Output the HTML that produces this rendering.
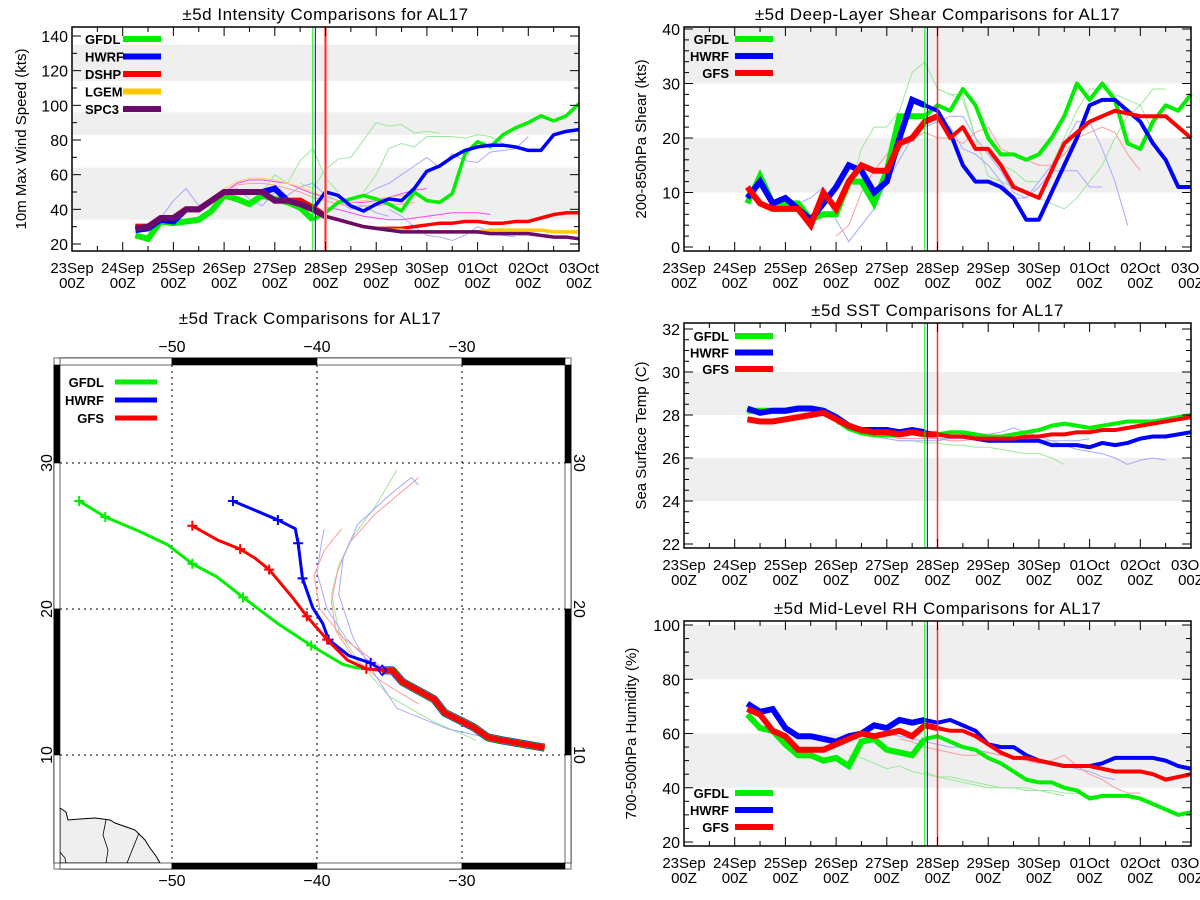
<!DOCTYPE html>
<html><head><meta charset="utf-8"><title>AL17 ±5d Comparisons</title>
<style>
html,body{margin:0;padding:0;background:#fff;}
svg{display:block;font-family:"Liberation Sans",sans-serif;}
</style></head>
<body>
<svg id="chart" width="1200" height="900" viewBox="0 0 1200 900" xmlns="http://www.w3.org/2000/svg"></svg>
<script>
// ---------------- DATA ----------------
const dayLabels = ["23Sep","24Sep","25Sep","26Sep","27Sep","28Sep","29Sep","30Sep","01Oct","02Oct","03Oct"];
const seriesStart = 1.25; // days after 23Sep 00Z, 6-hourly
// Intensity (kts)
const intGFDL = [25,23,33,32,33,34,39,48,46,43,48,46,44,41,34,38,44,46,48,46,43,39,50,45,44,49,72,79,76,83,87,90,94,91,94,101];
const intHWRF = [28,29,34,33,40,40,45,50,50,50,50,52,45,44,40,50,48,42,39,43,46,45,52,62,65,70,74,76,77,77,76,74,74,83,85,86];
const intDSHP = [30,30,35,35,40,40,45,50,50,50,50,45,45,45,41,36,34,32,30,29,29,29,30,31,32,32,33,33,32,32,33,33,35,37,38,38];
const intLGEM = [29,30,35,35,40,40,45,50,50,50,50,45,45,43,40,36,34,32,30,29,28,28,27,27,27,27,27,27,28,28,28,28,28,27,27,27];
const intSPC3 = [29,30,35,35,40,40,45,50,50,50,50,45,45,43,40,36,34,32,30,29,28,27,27,27,27,27,27,27,26,26,26,26,25,24,24,23];
const intThinStart = [4.5,5.75,3.5,1.75,5.75,6.25,3.0,5.0,3.0,3.0];
const intThinVals = [
 [55,52,63,69,70,80,90,88,89,84,85,84],
 [50,60,75,78,76,82,82,82,81,83,82,78],
 [45,50,60,55,68,75,58,50],
 [35,45,52,42,44,48,52,46,42,50,48,53,55,48,45,40,42,38,36],
 [48,52,55,60,65,70,64,72,68,67,73,74,75,82],
 [40,36,30,25,24,22,25,30,27,25,24],
 [50,55,57,57,56,55,52,49,47,45,44,44,45,47,49,51,52],
 [41,40,38,36,35,34,34,35,36,37,38,38,38,37],
 [52,56,58,58,57,55,53,50,47,45,44,45,46,47,48,48,47],
 [50,54,55,55,54,52,50,47,45,43,42,42,42,43,43,44]];
const intThinColor = ["#9be89b","#9be89b","#9be89b","#a8a8ff","#a8a8ff","#a8a8ff","#ff40ff","#ff40ff","#ffd070","#ff9a9a"];
// Shear (kts)
const shrGFDL = [8,13,8,8,8,5,6,6,12,12,8,14,24,24,24,26,25,29,26,20,17,17,16,17,20,24,30,27,30,27,19,18,23,26,25,28];
const shrHWRF = [9,12,8,9,7,5,8,11,15,14,10,12,20,27,26,25,21,15,12,12,11,9,5,5,10,15,20,26,27,27,25,23,19,16,11,11];
const shrGFS  = [11,8,7,7,7,4,10,7,12,15,14,14,19,20,23,24,20,22,18,18,15,11,10,9,14,19,21,23,24,25,24.5,24,24,24,22,20];
const shrThinStart = [3.0,5.0,2.25,5.0,3.0];
const shrThinVals = [
 [7,10,18,22,22,25,32,34,29,28,28,20,13,12,11,10,9,8,7,9,12,15,20,24,26,29,29],
 [29,28,27,20,17,15,14,12,12,15,20,25,29,29,28,27,26,21],
 [8,9,11,5,1,4,7,12,16,20,22,23,24,24,20,17,14,10,9,12,15,19,23,23,18,12,4],
 [23,22,18,17,15,12,9,9,11,14,14,14,11,11],
 [2,4,10,14,17,20,20,21,20,20,19,21,22,18,17,16,15,15,17,20,21,22,21,17,14]];
const shrThinColor = ["#9be89b","#9be89b","#a8a8ff","#a8a8ff","#ff9a9a"];
// SST (C)
const sstGFDL = [28.2,28.2,28.2,28.2,28.3,28.3,28.2,27.8,27.4,27.2,27.1,27.1,27.1,27.2,27.1,27.1,27.2,27.2,27.1,27.0,27.0,27.1,27.2,27.3,27.5,27.6,27.5,27.4,27.5,27.6,27.7,27.7,27.7,27.8,27.9,28.0];
const sstHWRF = [28.3,28.1,28.2,28.2,28.3,28.3,28.2,27.9,27.5,27.3,27.3,27.3,27.2,27.3,27.2,27.1,27.0,27.0,26.9,26.8,26.8,26.8,26.8,26.8,26.6,26.6,26.6,26.5,26.7,26.6,26.7,26.9,27.0,27.0,27.1,27.2];
const sstGFS  = [27.8,27.7,27.7,27.8,27.9,28.0,28.1,27.8,27.5,27.3,27.2,27.2,27.1,27.2,27.1,27.1,27.0,27.0,26.9,26.9,26.9,26.9,27.0,27.0,27.1,27.1,27.2,27.2,27.3,27.3,27.4,27.5,27.6,27.7,27.8,27.9];
const sstThinStart = [3.5,4.75,3.75,3.0];
const sstThinVals = [
 [27.2,27.0,26.9,26.8,26.8,26.7,26.7,26.6,26.6,26.5,26.5,26.4,26.3,26.2,26.2,26.0,25.7],
 [27.0,26.9,26.9,27.0,27.1,27.1,27.2,27.4,27.2,27.0,26.8,26.6,26.4,26.3,26.2,26.0,25.7,25.9,26.0,25.9],
 [27.0,26.9,26.8,26.8,26.8,26.8,26.9,26.9,26.9,26.9,26.8,26.8,26.9,26.8,26.8,26.8,26.8,26.9],
 [27.6,27.4,27.2,27.0,27.0,26.9,26.9,26.9,26.9,26.8,26.8,26.9,26.9,26.9,26.9,26.9,27.0]];
const sstThinColor = ["#9be89b","#a8a8ff","#a8a8ff","#ff9a9a"];
// RH (%)
const rhGFDL = [67,62,61,56,52,52,50,51,48,57,58,54,53,52,58,59,57,55,54,51,49,46,43,42,42,40,39,36,37,37,37,36,34,32,30,31];
const rhHWRF = [71,68,69,62,59,59,58,57,59,60,63,62,65,64,65,64,65,63,61,56,55,55,52,50,49,48,48,48,49,51,51,51,51,50,48,47];
const rhGFS  = [69,67,61,59,54,54,54,56,58,60,59,60,61,59,63,62,61,61,59,56,53,51,51,50,49,48,48,48,47,46,46,46,45,43,44,45];
const rhThinStart = [3.25,4.75,4.0,4.25];
const rhThinVals = [
 [52,51,49,47,48,46,45,44,43,42,41,40,40,40,39,39,38,37],
 [46,44,44,43,42,41,40,40,40,39,39,38,38,37,37,37],
 [60,59,58,57,56,55,55,54,53,52,51,50,50,49,48,47,46,44,43],
 [58,57,55,54,53,52,52,53,52,51,50,49,50,52,48,45,43,40,38,38]];
const rhThinColor = ["#9be89b","#9be89b","#a8a8ff","#ff9a9a"];
// Track (deg lon / lat)
const obsLon = [-24.3,-27.2,-28.2,-29.2,-31.2,-31.9,-34.1,-34.8,-35.5];
const obsLat = [10.5,11.0,11.2,11.9,12.9,13.8,15.0,15.8,15.8];
const trkGFDLLon = [-35.5,-37.4,-38.2,-40.4,-42.7,-45.1,-46.9,-48.6,-50.3,-52.2,-54.6,-56.4];
const trkGFDLLat = [15.8,16.0,16.2,17.5,19.0,20.8,22.2,23.1,24.4,25.3,26.3,27.4];
const trkHWRFLon = [-35.5,-36.3,-37.8,-39.2,-39.6,-40.3,-41.0,-41.3,-41.5,-42.7,-45.8];
const trkHWRFLat = [15.8,16.3,16.8,17.9,19.0,20.1,22.1,24.5,25.5,26.1,27.4];
const trkGFSLon = [-35.5,-36.6,-37.9,-39.3,-40.7,-41.7,-43.3,-44.3,-45.3,-46.8,-48.6];
const trkGFSLat = [15.8,15.9,16.5,17.9,19.5,20.8,22.7,23.5,24.1,24.7,25.7];
const markGFDL = [3,5,7,10,11];
const markHWRF = [1,3,6,7,9,10];
const markGFS = [1,3,4,6,8,10];
const thinTrkLon = [[-29.0,-32.0,-35.0,-37.0,-38.5,-39.0,-38.5,-37.5,-36.0,-34.5],[-33.0,-35.5,-37.5,-38.7,-39.0,-38.6,-37.8,-36.0,-33.0],[-35.0,-36.5,-38.0,-39.3,-40.0,-39.7,-39.5],[-27.0,-31.0,-34.5,-36.0,-37.5,-38.5,-38.2,-37.2,-35.0,-33.5,-33.0],[-35.2,-36.0,-38.2,-39.8,-40.2,-39.5,-38.3]];
const thinTrkLat = [[11.0,12.3,14.0,16.2,18.5,21.0,23.0,25.0,27.0,29.5],[13.5,15.0,16.7,18.5,20.5,22.5,24.5,26.5,29.0],[15.5,16.5,18.0,20.0,22.5,24.5,25.5],[10.9,11.8,13.2,15.5,18.0,21.0,23.5,25.8,27.8,29.0,28.5],[15.6,16.4,18.0,20.0,22.3,24.0,25.5]];
const thinTrkColor = ["#9be89b","#ff9a9a","#a8a8ff","#a8a8ff","#ff9a9a"];
const lonTicks = [-50,-40,-30];
const latTicks = [10,20,30];
</script>
<script>
const NS="http://www.w3.org/2000/svg";
const svg=document.getElementById('chart');
function mk(tag,attrs,parent){const e=document.createElementNS(NS,tag);for(const k in attrs)e.setAttribute(k,attrs[k]);(parent||svg).appendChild(e);return e;}
function txt(s,x,y,size,anchor,parent,extra){const t=mk('text',Object.assign({x:x,y:y,'font-size':size,'text-anchor':anchor||'middle',fill:'#000'},extra||{}),parent);t.textContent=s;return t;}

function drawPanel(p){
  const g=mk('g',{});
  
  
  const X=d=>p.x0+d*(p.x1-p.x0)/10;
  const Y=v=>p.yA+(v-p.vA)*(p.yB-p.yA)/(p.vB-p.vA);
  p.bands.forEach(b=>{
    const r=mk('rect',{x:p.x0,y:Math.max(p.top,Y(b[1])),width:p.x1-p.x0,height:Math.min(p.bot,Y(b[0]))-Math.max(p.top,Y(b[1])),fill:'#efefef'},g);
    
    
  });
  p.thin.forEach((vals,k)=>{
    const pts=vals.map((v,i)=>X(p.thinStart[k]+i*0.25)+','+Y(v)).join(' ');
    const l=mk('polyline',{points:pts,fill:'none',stroke:p.thinColor[k],'stroke-width':1},g);
    
    
  });
  p.series.forEach(s=>{
    const a=[],b=[];
    s.vals.forEach((v,i)=>{const d=seriesStart+i*0.25;const pt=X(d)+','+Y(v);if(d<=s.split)a.push(pt);if(d>=s.split)b.push(pt);});
    if(b.length>1){const l=mk('polyline',{points:b.join(' '),fill:'none',stroke:s.color,'stroke-width':s.w2,'stroke-linejoin':'round'},g);
      
      }
    if(a.length>1){const l=mk('polyline',{points:a.join(' '),fill:'none',stroke:s.color,'stroke-width':s.w1,'stroke-linejoin':'miter'},g);
      
      }
  });
  p.vlines.forEach(v=>{
    const l=mk('line',{x1:X(v[0]),x2:X(v[0]),y1:p.top,y2:p.bot,stroke:v[1],'stroke-width':v[2]},g);
    
    
  });
  const fr=mk('rect',{x:p.x0,y:p.top,width:p.x1-p.x0,height:p.bot-p.top,fill:'none',stroke:'#000','stroke-width':1.5},g);
  
  
  for(let h=0;h<=20;h++){
    const x=X(h/2),len=h%2?5:9;
    mk('line',{x1:x,x2:x,y1:p.bot,y2:p.bot-len,stroke:'#000','stroke-width':1},g);
    mk('line',{x1:x,x2:x,y1:p.top,y2:p.top+len,stroke:'#000','stroke-width':1},g);
  }
  dayLabels.forEach((s,i)=>{
    const t1=txt(s,X(i),p.bot+22,15,'middle',g);
    
    
    const t2=txt('00Z',X(i),p.bot+37,15,'middle',g);
    
    
  });
  for(let v=p.yMinor[0];v<=p.yMinor[1]+1e-9;v+=p.yMinor[2]){
    const y=Y(v); if(y<p.top-0.5||y>p.bot+0.5)continue;
    const major=Math.abs((v-p.yMajor[0])/p.yMajor[2]-Math.round((v-p.yMajor[0])/p.yMajor[2]))<1e-6;
    const len=major?9:5;
    mk('line',{x1:p.x0,x2:p.x0+len,y1:y,y2:y,stroke:'#000','stroke-width':1},g);
    mk('line',{x1:p.x1,x2:p.x1-len,y1:y,y2:y,stroke:'#000','stroke-width':1},g);
    if(major){const t=txt(String(Math.round(v*10)/10),p.x0-4,y+6,16,'end',g);
      
      }
  }
  const yt=txt(p.ylabel,0,0,15,'middle',g,{transform:'translate('+p.ylx+','+((p.top+p.bot)/2)+') rotate(-90)'});
  
  
  const tt=txt(p.title,(p.x0+p.x1)/2,p.top-7,17,'middle',g,{'letter-spacing':'0.5'});
  
  
  p.legend.forEach((e,i)=>{
    const y=p.legY+i*p.legDy;
    const t=txt(e[0],p.legTx,y+5,13,p.legAnchor,g,{'font-weight':'bold'});
    
    
    const l=mk('line',{x1:p.legL0,x2:p.legL1,y1:y,y2:y,stroke:e[1],'stroke-width':6},g);
    
    
  });
}

const G='#00ee00',B='#0000ff',R='#ff0000',Yl='#ffc800',P='#6a0a6a',RL='#ff3030';
drawPanel({name:'intensity-panel',title:'±5d Intensity Comparisons for AL17',ylabel:'10m Max Wind Speed (kts)',ylx:26,
 x0:72,x1:579,top:27,bot:251,vA:20,yA:244,vB:140,yB:36,
 bands:[[34,64],[83,96],[114,135]],yMajor:[20,140,20],yMinor:[20,140,10],
 thin:intThinVals,thinStart:intThinStart,thinColor:intThinColor,
 series:[{id:'gfdl',vals:intGFDL,color:G,split:4.75,w1:6,w2:3.5},{id:'hwrf',vals:intHWRF,color:B,split:4.75,w1:6,w2:3.5},
   {id:'dshp',vals:intDSHP,color:R,split:5.0,w1:6,w2:3.5},{id:'lgem',vals:intLGEM,color:Yl,split:5.0,w1:6,w2:3.5},
   {id:'spc3',vals:intSPC3,color:P,split:5.0,w1:6,w2:3.5}],
 vlines:[[4.75,G,1],[4.8,B,1],[5.0,'#ff9090',3],[5.0,RL,1.2]],
 legend:[['GFDL',G],['HWRF',B],['DSHP',R],['LGEM',Yl],['SPC3',P]],legY:39,legDy:17.5,legTx:85,legAnchor:'start',legL0:123,legL1:161});
drawPanel({name:'shear-panel',title:'±5d Deep-Layer Shear Comparisons for AL17',ylabel:'200-850hPa Shear (kts)',ylx:646,
 x0:684,x1:1191,top:27,bot:251,vA:0,yA:247,vB:40,yB:29,
 bands:[[10,20],[30,41]],yMajor:[0,40,10],yMinor:[0,40,2],
 thin:shrThinVals,thinStart:shrThinStart,thinColor:shrThinColor,
 series:[{id:'gfdl',vals:shrGFDL,color:G,split:4.75,w1:6,w2:4},{id:'hwrf',vals:shrHWRF,color:B,split:4.75,w1:6,w2:4},{id:'gfs',vals:shrGFS,color:R,split:5.0,w1:6,w2:4}],
 vlines:[[4.75,G,1],[4.8,B,1],[5.0,RL,1.5]],
 legend:[['GFDL',G],['HWRF',B],['GFS',R]],legY:39,legDy:17,legTx:729,legAnchor:'end',legL0:735,legL1:773});
drawPanel({name:'sst-panel',title:'±5d SST Comparisons for AL17',ylabel:'Sea Surface Temp (C)',ylx:646,
 x0:684,x1:1191,top:323,bot:548,vA:22,yA:544,vB:32,yB:329,
 bands:[[24,26],[28,30]],yMajor:[22,32,2],yMinor:[22,32,0.5],
 thin:sstThinVals,thinStart:sstThinStart,thinColor:sstThinColor,
 series:[{id:'gfdl',vals:sstGFDL,color:G,split:4.75,w1:6,w2:4},{id:'hwrf',vals:sstHWRF,color:B,split:4.75,w1:6,w2:4},{id:'gfs',vals:sstGFS,color:R,split:5.0,w1:6,w2:4}],
 vlines:[[4.75,G,1],[4.8,B,1],[5.0,RL,1.5]],
 legend:[['GFDL',G],['HWRF',B],['GFS',R]],legY:336,legDy:16.5,legTx:729,legAnchor:'end',legL0:735,legL1:773});
drawPanel({name:'rh-panel',title:'±5d Mid-Level RH Comparisons for AL17',ylabel:'700-500hPa Humidity (%)',ylx:636,
 x0:684,x1:1191,top:621,bot:846,vA:20,yA:842,vB:100,yB:625,
 bands:[[40,60],[80,100]],yMajor:[20,100,20],yMinor:[20,100,5],
 thin:rhThinVals,thinStart:rhThinStart,thinColor:rhThinColor,
 series:[{id:'gfdl',vals:rhGFDL,color:G,split:4.75,w1:6,w2:4},{id:'hwrf',vals:rhHWRF,color:B,split:4.75,w1:6,w2:4},{id:'gfs',vals:rhGFS,color:R,split:5.0,w1:6,w2:4}],
 vlines:[[4.75,G,1],[4.8,B,1],[5.0,RL,1.5]],
 legend:[['GFDL',G],['HWRF',B],['GFS',R]],legY:793,legDy:17,legTx:729,legAnchor:'end',legL0:735,legL1:773});

// ---------------- TRACK MAP ----------------
(function(){
  const g=mk('g',{});
  
  
  const LX=lon=>317+(lon+40)*14.5, LY=lat=>755-(lat-10)*14.6;
  const L=60,Rr=565,T=365,Bt=863;
  const tt=txt('±5d Track Comparisons for AL17',310,324,17,'middle',g,{'letter-spacing':'0.5'});
  
  
  const coast=mk('path',{d:'M60,808 L66,812 L68,820 L80,819 L95,818 L110,820 L115,823 L135,830 L145,840 L150,848 L156,856 L160,863 L60,863 Z',fill:'#efefef',stroke:'#000','stroke-width':1},g);
  
  
  const bd=mk('path',{d:'M106,820 L103,835 L108,850 L106,863 M139,833 L133,848 L127,863 M60,852 L65,858 L66,863',fill:'none',stroke:'#000','stroke-width':0.8},g);
  
  
  lonTicks.forEach(lon=>{
    const l=mk('line',{x1:LX(lon),x2:LX(lon),y1:T,y2:Bt,stroke:'#000','stroke-width':1,'stroke-dasharray':'2,4'},g);
    
    
    const s='−'+Math.abs(lon);
    const a=txt(s,LX(lon),352,16,'middle',g);  
    const b=txt(s,LX(lon),886,16,'middle',g);  
  });
  latTicks.forEach(lat=>{
    const l=mk('line',{x1:L,x2:Rr,y1:LY(lat),y2:LY(lat),stroke:'#000','stroke-width':1,'stroke-dasharray':'2,4'},g);
    
    
    const a=txt(String(lat),0,0,16,'middle',g,{transform:'translate(52,'+LY(lat)+') rotate(-90)'});  
    const b=txt(String(lat),0,0,16,'middle',g,{transform:'translate(574,'+LY(lat)+') rotate(90)'});  
  });
  thinTrkLon.forEach((lons,k)=>{
    const l=mk('polyline',{points:lons.map((v,i)=>LX(v)+','+LY(thinTrkLat[k][i])).join(' '),fill:'none',stroke:thinTrkColor[k],'stroke-width':1},g);
    
    
  });
  function track(lons,lats,color,marks,id){
    const l=mk('polyline',{points:lons.map((v,i)=>LX(v)+','+LY(lats[i])).join(' '),fill:'none',stroke:color,'stroke-width':3,'stroke-linejoin':'round'},g);
    
    
    marks.forEach(i=>{const x=LX(lons[i]),y=LY(lats[i]);
      const m=mk('path',{d:'M'+(x-5)+','+y+'h10M'+x+','+(y-5)+'v10',stroke:color,'stroke-width':2},g);
      
      });
  }
  track(trkGFDLLon,trkGFDLLat,G,markGFDL,'gfdl');
  track(trkHWRFLon,trkHWRFLat,B,markHWRF,'hwrf');
  track(trkGFSLon,trkGFSLat,R,markGFS,'gfs');
  const obsPts=obsLon.map((v,i)=>LX(v)+','+LY(obsLat[i])).join(' ');
  [[B,8],[G,7],[R,6]].forEach(c=>{const l=mk('polyline',{points:obsPts,fill:'none',stroke:c[0],'stroke-width':c[1],'stroke-linejoin':'round'},g);
    
    });
  const dm=mk('path',{d:'M'+(LX(-35.5)-4)+','+LY(15.8)+'l4,-5l4,5l-4,5z',fill:'none',stroke:B,'stroke-width':1.5},g);
  
  
  const fo=mk('rect',{x:54,y:358,width:517,height:511,fill:'none',stroke:'#999','stroke-width':1.5},g);
  
  
  const segX=[[L,LX(-50),0],[LX(-50),LX(-40),1],[LX(-40),LX(-30),0],[LX(-30),Rr,1]];
  segX.forEach(s=>{[[358,T],[Bt,869]].forEach(yy=>{const r=mk('rect',{x:s[0],y:yy[0],width:s[1]-s[0],height:yy[1]-yy[0],fill:s[2]?'#000':'#fff',stroke:'#000','stroke-width':0.6},g);
    
    });});
  const segY=[[T,LY(30),1],[LY(30),LY(20),0],[LY(20),LY(10),1],[LY(10),Bt,0]];
  segY.forEach(s=>{[[54,L],[Rr,571]].forEach(xx=>{const r=mk('rect',{x:xx[0],y:s[0],width:xx[1]-xx[0],height:s[1]-s[0],fill:s[2]?'#000':'#fff',stroke:'#000','stroke-width':0.6},g);
    
    });});
  [['GFDL',G],['HWRF',B],['GFS',R]].forEach((e,i)=>{
    const y=382+i*18;
    const t=txt(e[0],104,y+5,13,'end',g,{'font-weight':'bold'});
    
    
    const l=mk('line',{x1:115,x2:157,y1:y,y2:y,stroke:e[1],'stroke-width':5},g);
    
    
  });
})();
</script>
</body></html>
